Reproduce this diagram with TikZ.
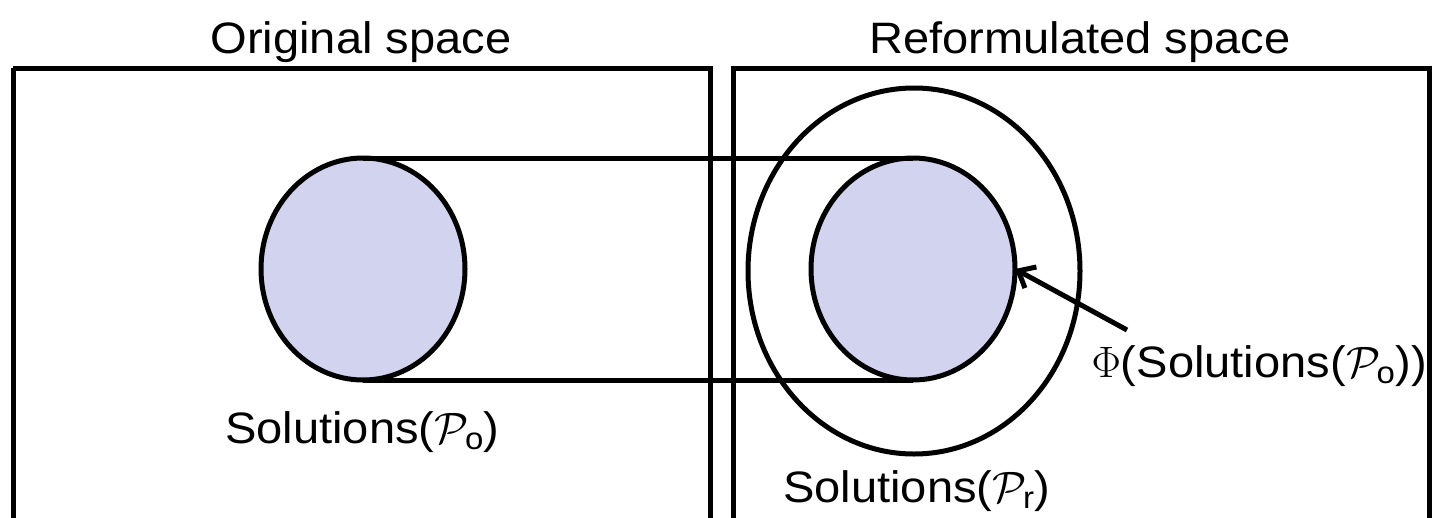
\RequirePackage{fix-cm}
\documentclass[tikz,border=0pt]{standalone}
\usepackage{amsmath}
\usepackage[no-math]{fontspec}
\setmainfont{Liberation Sans}[FakeStretch=1.07]
\usetikzlibrary{shapes.geometric,arrows.meta}
\definecolor{solfill}{RGB}{209,211,239}
\tikzset{
  frame/.style={draw=black,line width=5pt},
  solset/.style={ellipse,draw=black,line width=5pt,fill=solfill,inner sep=0pt,outer sep=0pt},
  bigset/.style={ellipse,draw=black,line width=5pt,inner sep=0pt,outer sep=0pt},
  link/.style={draw=black,line width=5pt},
  lbl/.style={inner sep=0pt,font=\fontsize{44}{50}\selectfont},
  pointer/.style={draw=black,line width=5pt,-{Straight Barb[length=14pt,width=24pt,line width=5pt]}}
}
\begin{document}
\begin{tikzpicture}[x=1pt,y=-1pt]
\useasboundingbox (0,0) rectangle (1432,517);
\clip (0,0) rectangle (1432,517);
% frames
\draw[frame] (13,68) -- (13,540) (13,68) -- (710,68) -- (710,540);
\draw[frame] (733,540) -- (733,68) -- (1429,68) -- (1429,540);
% titles
\node[lbl,anchor=base] (t1) at (361,53) {Original space};
\node[lbl,anchor=base] (t2) at (1080,53) {Reformulated space};
% sets
\node[bigset,minimum width=332pt,minimum height=366pt] (R) at (914,271) {};
\node[solset,minimum width=204pt,minimum height=222pt] (A) at (363,269) {};
\node[solset,minimum width=204pt,minimum height=222pt] (B) at (913,269) {};
% connecting lines
\draw[link] (A.north) -- (B.north);
\draw[link] (A.south) -- (B.south);
% labels
\node[lbl,anchor=base west] (la) at (225,443) {Solutions($\mathcal{P}_{\text{o}}$)};
\node[lbl,anchor=base west] (lr) at (783,502) {Solutions($\mathcal{P}_{\text{r}}$)};
\node[lbl,anchor=base east] (lp) at (1427,377) {$\Phi$(Solutions($\mathcal{P}_{\text{o}}$))};
% pointer
\coordinate (ps) at (1127,330);
\draw[pointer] (ps) -- (B.east);
\end{tikzpicture}
\end{document}
